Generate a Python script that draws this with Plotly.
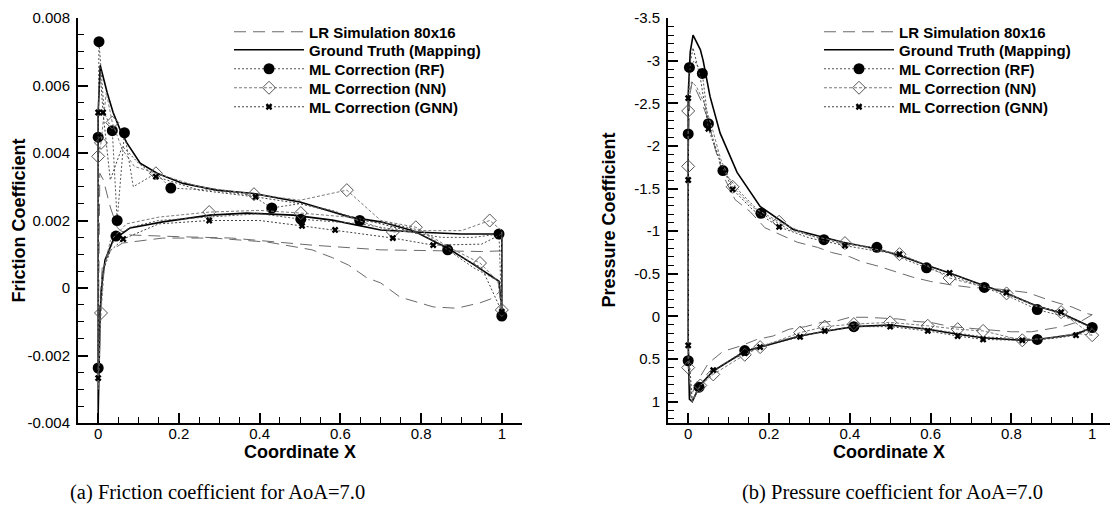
import plotly.graph_objects as go

W, H = 1110, 519

# ---------------- Friction coefficient (left) ----------------
CF_GT_X = [0.0, 0.0, 0.005, 0.022, 0.037, 0.054, 0.071, 0.104, 0.146, 0.21, 0.294, 0.385, 0.5, 0.624, 0.70, 0.78, 0.866, 0.93, 0.993, 1.0,
           1.0, 0.99, 0.9, 0.8, 0.70, 0.58, 0.483, 0.369, 0.277, 0.16, 0.079, 0.037, 0.017, 0.01, 0.005, 0.002, 0.0]
CF_GT_Y = [-0.0037, 0.0052, 0.0066, 0.0058, 0.0052, 0.0047, 0.0043, 0.0037, 0.0034, 0.0031, 0.0029, 0.0028, 0.00255, 0.0021, 0.00196, 0.0017, 0.00118, 0.0007, 0.0002, -0.00068,
           0.0016, 0.0016, 0.0016, 0.00165, 0.00172, 0.00201, 0.00216, 0.00222, 0.00216, 0.00196, 0.00178, 0.00142, 0.00083, 0.0002, -0.0007, -0.0025, -0.0037]

CF_LR_X = [1.0, 0.95, 0.86, 0.70, 0.53, 0.33, 0.20, 0.12, 0.08, 0.055, 0.047, 0.03, 0.013, 0.004, 0.0, 0.003, 0.01, 0.03, 0.06, 0.16,
           0.285, 0.42, 0.53, 0.58, 0.62, 0.666, 0.70, 0.748, 0.83, 0.888, 0.946, 0.978, 0.995]
CF_LR_Y = [0.0011, 0.00108, 0.0011, 0.00113, 0.00127, 0.00148, 0.00152, 0.00155, 0.00157, 0.0017, 0.0018, 0.0024, 0.0032, 0.0034, -0.002, -0.0006, 0.0006, 0.0011, 0.00133, 0.00148,
           0.00148, 0.00136, 0.00113, 0.0009, 0.00068, 0.0003, 0.00015, -0.00027, -0.00056, -0.0006, -0.00044, -0.0003, -0.0001]

CF_RF_X = [0.0, 0.0, 0.002, 0.015, 0.035, 0.047, 0.065, 0.087, 0.143, 0.18, 0.28, 0.38, 0.43, 0.50, 0.58, 0.648, 0.73, 0.80, 0.866, 0.93,
           0.993, 1.0, 0.993, 0.93, 0.85, 0.75, 0.65, 0.502, 0.40, 0.27, 0.15, 0.08, 0.044, 0.02, 0.008, 0.0]
CF_RF_Y = [-0.00237, 0.00447, 0.0073, 0.0052, 0.00466, 0.0020, 0.0046, 0.0030, 0.0034, 0.00296, 0.0029, 0.00275, 0.00237, 0.0025, 0.0023, 0.0020, 0.0019, 0.0017, 0.00113, 0.0006,
           0.0002, -0.00083, 0.0016, 0.0015, 0.0015, 0.0017, 0.0019, 0.00204, 0.0022, 0.0021, 0.0020, 0.0018, 0.00154, 0.0009, 0.0, -0.00237]
CF_RF_MARK = [0, 1, 2, 4, 5, 6, 9, 12, 15, 18, 21, 22, 27, 32]

CF_NN_X = [0.0, 0.0, 0.007, 0.02, 0.035, 0.06, 0.09, 0.143, 0.25, 0.386, 0.50, 0.616, 0.70, 0.787, 0.87, 0.946, 0.99, 1.0, 1.0, 0.97,
           0.90, 0.80, 0.73, 0.62, 0.502, 0.40, 0.275, 0.15, 0.07, 0.03, 0.015, 0.007, 0.0]
CF_NN_Y = [-0.003, 0.0039, 0.0043, 0.0058, 0.0049, 0.0041, 0.0036, 0.0034, 0.003, 0.00278, 0.0026, 0.0029, 0.0020, 0.0018, 0.0012, 0.00074, 0.0002, -0.00065, 0.0017, 0.0020,
           0.0017, 0.0017, 0.00166, 0.0021, 0.00222, 0.0023, 0.00225, 0.0021, 0.0019, 0.0014, 0.0006, -0.00074, -0.003]
CF_NN_MARK = [1, 2, 4, 7, 9, 11, 13, 15, 17, 19, 22, 24, 26, 31]

CF_GNN_X = [0.0, 0.0, 0.005, 0.012, 0.03, 0.06, 0.10, 0.143, 0.25, 0.39, 0.50, 0.60, 0.70, 0.80, 0.87, 0.95, 1.0, 1.0, 0.95, 0.83,
            0.73, 0.587, 0.505, 0.40, 0.275, 0.15, 0.062, 0.03, 0.012, 0.004, 0.0]
CF_GNN_Y = [-0.00267, 0.0052, 0.0064, 0.0052, 0.0032, 0.0042, 0.0037, 0.0033, 0.0029, 0.0027, 0.0025, 0.0022, 0.0019, 0.0016, 0.0011, 0.0006, -0.0007, 0.0016, 0.0013, 0.00127,
            0.00148, 0.00172, 0.00184, 0.0020, 0.0020, 0.0019, 0.00145, 0.0011, 0.0005, -0.0008, -0.00267]
CF_GNN_MARK = [0, 1, 3, 7, 9, 16, 19, 20, 21, 22, 24, 26]

# ---------------- Pressure coefficient (right) ----------------
CP_GT_X = [1.0, 0.96, 0.864, 0.827, 0.73, 0.667, 0.593, 0.5, 0.41, 0.343, 0.277, 0.178, 0.14, 0.062, 0.03, 0.01, 0.003, 0.0, 0.0, 0.005,
           0.012, 0.03, 0.037, 0.054, 0.079, 0.121, 0.178, 0.26, 0.383, 0.467, 0.52, 0.59, 0.647, 0.733, 0.788, 0.864, 0.923, 1.0]
CP_GT_Y = [0.13, 0.21, 0.27, 0.28, 0.25, 0.21, 0.15, 0.10, 0.12, 0.17, 0.23, 0.36, 0.41, 0.64, 0.80, 1.0, 0.97, 0.3, -2.6, -3.1,
           -3.3, -3.13, -3.0, -2.58, -2.15, -1.69, -1.29, -1.02, -0.87, -0.79, -0.72, -0.60, -0.51, -0.36, -0.27, -0.12, -0.04, 0.13]

CP_LR_X = [1.0, 0.975, 0.926, 0.886, 0.85, 0.80, 0.69, 0.65, 0.60, 0.565, 0.52, 0.49, 0.44, 0.40, 0.37, 0.33, 0.29, 0.25, 0.21, 0.17,
           0.128, 0.086, 0.05, 0.02, 0.006, 0.001, 0.0, 0.004, 0.01, 0.03, 0.047, 0.067, 0.09, 0.116, 0.153, 0.19, 0.235, 0.27, 0.32, 0.355,
           0.40, 0.43, 0.47, 0.515, 0.556, 0.60, 0.65, 0.70, 0.77, 0.84, 0.90, 0.95, 0.99, 1.0]
CP_LR_Y = [-0.02, 0.05, 0.12, 0.15, 0.18, 0.18, 0.13, 0.12, 0.07, 0.06, 0.03, 0.02, 0.01, 0.01, 0.05, 0.07, 0.12, 0.15, 0.23, 0.27,
           0.35, 0.41, 0.55, 0.78, 0.95, 0.6, -1.8, -2.6, -2.75, -2.55, -2.34, -1.96, -1.62, -1.37, -1.23, -1.04, -0.94, -0.87, -0.81, -0.75,
           -0.70, -0.64, -0.59, -0.52, -0.46, -0.41, -0.37, -0.34, -0.32, -0.28, -0.18, -0.11, -0.03, -0.02]

CP_RF_X = [1.0, 0.93, 0.864, 0.73, 0.60, 0.50, 0.41, 0.28, 0.20, 0.14, 0.08, 0.027, 0.008, 0.0, 0.0, 0.003, 0.015, 0.035, 0.05, 0.086,
           0.13, 0.18, 0.25, 0.336, 0.40, 0.467, 0.53, 0.59, 0.66, 0.733, 0.80, 0.864, 0.93, 1.0]
CP_RF_Y = [0.13, 0.24, 0.27, 0.24, 0.15, 0.11, 0.12, 0.22, 0.32, 0.40, 0.58, 0.83, 1.0, 0.52, -2.14, -2.92, -3.0, -2.85, -2.26, -1.71,
           -1.45, -1.21, -1.02, -0.90, -0.84, -0.81, -0.68, -0.57, -0.46, -0.34, -0.22, -0.08, 0.0, 0.13]
CP_RF_MARK = [0, 2, 6, 9, 11, 13, 14, 15, 17, 18, 19, 21, 23, 25, 27, 29, 31]

CP_NN_X = [1.0, 0.96, 0.90, 0.827, 0.73, 0.667, 0.593, 0.5, 0.41, 0.338, 0.277, 0.178, 0.14, 0.062, 0.03, 0.01, 0.0, 0.0, 0.0, 0.008,
           0.02, 0.04, 0.06, 0.08, 0.11, 0.16, 0.225, 0.30, 0.388, 0.45, 0.523, 0.58, 0.647, 0.72, 0.788, 0.86, 0.923, 1.0]
CP_NN_Y = [0.22, 0.20, 0.25, 0.28, 0.17, 0.15, 0.11, 0.07, 0.09, 0.12, 0.19, 0.36, 0.45, 0.68, 0.81, 1.0, 0.60, -1.76, -2.41, -2.75,
           -2.7, -2.5, -2.2, -1.85, -1.52, -1.28, -1.11, -0.95, -0.86, -0.80, -0.73, -0.62, -0.45, -0.36, -0.27, -0.12, -0.05, 0.22]
CP_NN_MARK = [0, 3, 4, 5, 6, 7, 8, 9, 10, 11, 12, 13, 14, 16, 17, 18, 24, 26, 28, 30, 32, 34, 36]

CP_GNN_X = [1.0, 0.96, 0.90, 0.827, 0.73, 0.667, 0.593, 0.5, 0.41, 0.338, 0.277, 0.178, 0.14, 0.062, 0.027, 0.01, 0.0, 0.0, 0.0, 0.006,
            0.012, 0.03, 0.05, 0.08, 0.11, 0.16, 0.225, 0.30, 0.388, 0.45, 0.523, 0.58, 0.647, 0.72, 0.788, 0.86, 0.923, 1.0]
CP_GNN_Y = [0.14, 0.22, 0.26, 0.28, 0.27, 0.23, 0.17, 0.12, 0.12, 0.17, 0.24, 0.36, 0.43, 0.63, 0.82, 0.98, 0.34, -1.6, -2.56, -3.0,
            -3.15, -2.8, -2.2, -1.8, -1.49, -1.25, -1.05, -0.92, -0.83, -0.78, -0.73, -0.62, -0.51, -0.38, -0.28, -0.13, -0.05, 0.14]
CP_GNN_MARK = [1, 3, 4, 5, 6, 7, 9, 10, 11, 12, 13, 16, 17, 18, 22, 24, 26, 28, 30, 32, 34, 36]

X_TICKS = [0, 0.2, 0.4, 0.6, 0.8, 1]
X_TICK_TEXT = ["0", "0.2", "0.4", "0.6", "0.8", "1"]
CF_TICKS = [-0.004, -0.002, 0, 0.002, 0.004, 0.006, 0.008]
CF_TICK_TEXT = ["-0.004", "-0.002", "0", "0.002", "0.004", "0.006", "0.008"]
CP_TICKS = [-3.5, -3, -2.5, -2, -1.5, -1, -0.5, 0, 0.5, 1]
CP_TICK_TEXT = ["-3.5", "-3", "-2.5", "-2", "-1.5", "-1", "-0.5", "0", "0.5", "1"]

NAMES = ["LR Simulation 80x16", "Ground Truth (Mapping)", "ML Correction (RF)",
         "ML Correction (NN)", "ML Correction (GNN)"]
X_TITLE = "Coordinate X"
Y_TITLES = ["Friction Coefficient", "Pressure Coefficient"]
CAPTIONS = ["(a) Friction coefficient for AoA=7.0", "(b) Pressure coefficient for AoA=7.0"]

FONT = "Liberation Sans"

STY = {
    "LR": dict(line=dict(color="#6a6a6a", width=1, dash="12px,7px")),
    "GT": dict(line=dict(color="black", width=1.6)),
    "RF": dict(line=dict(color="#555555", width=1, dash="2px,2px"),
               marker=dict(symbol="circle", size=11, color="black")),
    "NN": dict(line=dict(color="#7a7a7a", width=1, dash="3px,2px"),
               marker=dict(symbol="diamond-open", size=10, color="#555555", line=dict(width=1, color="#555555"))),
    "GNN": dict(line=dict(color="#444444", width=1, dash="2px,2px"),
                marker=dict(symbol="x", size=6, color="black", line=dict(width=0))),
}

# panel geometry in pixels
PANEL_X = [(78, 522), (668, 1110)]
PLOT_TOP, PLOT_BOTTOM = 18, 423
LEG_ROW_Y = [32, 50, 69, 88, 107]   # legend row centres (px)
LEG_LEFT = [229, 819]

fig = go.Figure()


def px(v):
    return v / W


def py(v):
    return 1 - v / H


legend_layouts = {}
leg_counter = [0]


def add_series(key, xs, ys, mark, name, xa, ya, panel, row):
    st = STY[key]
    fig.add_trace(go.Scatter(x=xs, y=ys, mode="lines", line=st["line"], xaxis=xa, yaxis=ya,
                             showlegend=False, hoverinfo="skip"))
    if mark is not None:
        fig.add_trace(go.Scatter(x=[xs[i] for i in mark], y=[ys[i] for i in mark], mode="markers",
                                 marker=st["marker"], xaxis=xa, yaxis=ya, showlegend=False,
                                 hoverinfo="skip", cliponaxis=False))
    leg_counter[0] += 1
    lname = "legend" if leg_counter[0] == 1 else "legend%d" % leg_counter[0]
    legend_layouts[lname] = dict(x=px(LEG_LEFT[panel]), y=py(LEG_ROW_Y[row]),
                                 xanchor="left", yanchor="middle",
                                 bgcolor="rgba(0,0,0,0)", borderwidth=0,
                                 font=dict(family=FONT, size=15, color="black", weight="bold"),
                                 itemwidth=70)
    fig.add_trace(go.Scatter(x=[None], y=[None], mode="lines+markers" if mark is not None else "lines",
                             line=st["line"], marker=st.get("marker", None), name=name,
                             xaxis=xa, yaxis=ya, legend=lname, showlegend=True))


for panel, (xa, ya, data) in enumerate([
    ("x", "y", [("LR", CF_LR_X, CF_LR_Y, None), ("GT", CF_GT_X, CF_GT_Y, None),
                ("RF", CF_RF_X, CF_RF_Y, CF_RF_MARK), ("NN", CF_NN_X, CF_NN_Y, CF_NN_MARK),
                ("GNN", CF_GNN_X, CF_GNN_Y, CF_GNN_MARK)]),
    ("x2", "y2", [("LR", CP_LR_X, CP_LR_Y, None), ("GT", CP_GT_X, CP_GT_Y, None),
                  ("RF", CP_RF_X, CP_RF_Y, CP_RF_MARK), ("NN", CP_NN_X, CP_NN_Y, CP_NN_MARK),
                  ("GNN", CP_GNN_X, CP_GNN_Y, CP_GNN_MARK)]),
]):
    for row, ((key, xs, ys, mk), name) in enumerate(zip(data, NAMES)):
        add_series(key, xs, ys, mk, name, xa, ya, panel, row)


tickfont = dict(family=FONT, size=15, color="black")
titlefont = dict(family=FONT, size=18, color="black", weight="bold")


def xaxis_cfg(dom, rng, anchor):
    return dict(domain=dom, range=rng, anchor=anchor, tickmode="array", tickvals=X_TICKS, ticktext=X_TICK_TEXT,
                ticks="inside", ticklen=10, tickwidth=2, tickcolor="black", ticklabelstandoff=-4,
                showline=True, linecolor="black", linewidth=2, mirror=False, automargin=False,
                showgrid=False, zeroline=False, tickfont=tickfont,
                minor=dict(ticks="inside", ticklen=6, tickwidth=1, tickcolor="black", tick0=0, dtick=0.05, showgrid=False))


def yaxis_cfg(dom, rng, tv, tt, mdt, anchor):
    return dict(domain=dom, range=rng, tickmode="array", tickvals=tv, ticktext=tt, anchor=anchor,
                ticks="inside", ticklen=10, tickwidth=2, tickcolor="black", ticklabelstandoff=3,
                showline=True, linecolor="black", linewidth=2, mirror=False, automargin=False,
                showgrid=False, zeroline=False, tickfont=tickfont,
                minor=dict(ticks="inside", ticklen=6, tickwidth=1, tickcolor="black", tick0=0, dtick=mdt, showgrid=False))


ydom = [py(PLOT_BOTTOM), py(PLOT_TOP)]
fig.update_layout(
    width=W, height=H, margin=dict(l=0, r=0, t=0, b=0, autoexpand=False),
    paper_bgcolor="white", plot_bgcolor="white",
    xaxis=xaxis_cfg([px(PANEL_X[0][0]), px(PANEL_X[0][1])], [-0.05, 1.05], "y"),
    yaxis=yaxis_cfg(ydom, [-0.004, 0.008], CF_TICKS, CF_TICK_TEXT, 0.0005, "x"),
    xaxis2=xaxis_cfg([px(PANEL_X[1][0]), px(PANEL_X[1][1])], [-0.05, -0.05 + 442 / 404], "y2"),
    yaxis2=yaxis_cfg(ydom, [1.25, -3.5], CP_TICKS, CP_TICK_TEXT, 0.1, "x2"),
    showlegend=True,
    **legend_layouts,
)

# axis titles
for cx in [300, 889]:
    fig.add_annotation(x=px(cx), y=py(452), xref="paper", yref="paper", text=X_TITLE, showarrow=False,
                       xanchor="center", yanchor="middle", font=titlefont)
for ytx, txt in zip([18, 608], Y_TITLES):
    fig.add_annotation(x=px(ytx), y=py((PLOT_TOP + PLOT_BOTTOM) / 2), xref="paper", yref="paper", text=txt,
                       showarrow=False, textangle=-90, xanchor="center", yanchor="middle", font=titlefont)

for cx, txt in zip([217, 892], CAPTIONS):
    fig.add_annotation(x=px(cx), y=py(492), xref="paper", yref="paper", text=txt, showarrow=False,
                       xanchor="center", yanchor="middle",
                       font=dict(family="Liberation Serif", size=20.5, color="black"))

fig.write_html("out.html", config={"displayModeBar": False},
               post_script="document.body.style.margin='0';document.body.style.overflow='hidden';")
